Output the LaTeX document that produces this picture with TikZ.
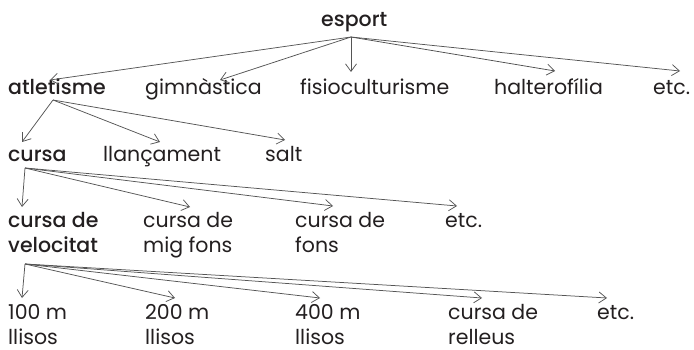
\documentclass[tikz,border=0pt]{standalone}
\usepackage{fontspec}
\setmainfont{Poppins}[BoldFont={Poppins Medium}]
\usetikzlibrary{arrows.meta}
\definecolor{ink}{HTML}{231F20}
\definecolor{wire}{HTML}{555555}
\newcommand{\twolines}[2]{\vtop{\baselineskip=25pt\hbox{#1}\hbox{#2}}}
\begin{document}
\begin{tikzpicture}[x=1pt,y=-1pt,
  lbl/.style={anchor=base west,inner sep=0pt,text=ink,font=\fontsize{20.5}{25}\selectfont},
  hd/.style={lbl,font=\fontsize{20.5}{25}\selectfont\bfseries},
  arr/.style={draw=wire,line width=0.75pt,-{Straight Barb[length=7.5pt,width=11pt,line width=0.75pt]}}]
\useasboundingbox (0,0) rectangle (694,350);
% level 0
\node[hd] (esport) at (321,27) {esport};
% level 1
\node[hd]  (atl) at (8,95) {atletisme};
\node[lbl] (gim) at (145,95) {gimnàstica};
\node[lbl] (fis) at (300,95) {fisioculturisme};
\node[lbl] (hal) at (494,95) {halterofília};
\node[lbl] (etcA) at (653,95) {etc.};
% level 2
\node[hd]  (cur) at (8,162) {cursa};
\node[lbl] (lla) at (103,162) {llançament};
\node[lbl] (sal) at (265,162) {salt};
% level 3
\node[hd]  (vel) at (8,227) {\twolines{cursa de}{velocitat}};
\node[lbl] (mig) at (143,227) {\twolines{cursa de}{mig fons}};
\node[lbl] (fon) at (295,227) {\twolines{cursa de}{fons}};
\node[lbl] (etcB) at (445,227) {etc.};
% level 4
\node[lbl] (c100) at (8,319) {\twolines{100 m}{llisos}};
\node[lbl] (c200) at (145,319) {\twolines{200 m}{llisos}};
\node[lbl] (c400) at (295,319) {\twolines{400 m}{llisos}};
\node[lbl] (rel) at (448,319) {\twolines{cursa de}{relleus}};
\node[lbl] (etcC) at (597,319) {etc.};
% connectors
\coordinate (o0) at ([xshift=30pt,yshift=-10pt]esport.base west);
\draw[arr] (o0) -- ([xshift=42pt,yshift=15pt]atl.base west);
\draw[arr] (o0) -- ([xshift=75pt,yshift=15pt]gim.base west);
\draw[arr] (o0) -- ([xshift=51pt,yshift=23pt]fis.base west);
\draw[arr] (o0) -- ([xshift=61pt,yshift=24pt]hal.base west);
\draw[arr] (o0) -- ([xshift=27pt,yshift=24pt]etcA.base west);
\coordinate (o1) at ([xshift=45pt,yshift=-5pt]atl.base west);
\draw[arr] (o1) -- ([xshift=14pt,yshift=20pt]cur.base west);
\draw[arr] (o1) -- ([xshift=57pt,yshift=20pt]lla.base west);
\draw[arr] (o1) -- ([xshift=20pt,yshift=22pt]sal.base west);
\coordinate (o2) at ([xshift=17pt,yshift=-6pt]cur.base west);
\draw[arr] (o2) -- ([xshift=14pt,yshift=20pt]vel.base west);
\draw[arr] (o2) -- ([xshift=47pt,yshift=20pt]mig.base west);
\draw[arr] (o2) -- ([xshift=38pt,yshift=21pt]fon.base west);
\draw[arr] (o2) -- ([xshift=12pt,yshift=21pt]etcB.base west);
\coordinate (o3) at ([xshift=17pt,yshift=-37pt]vel.base west);
\draw[arr] (o3) -- ([xshift=14pt,yshift=21pt]c100.base west);
\draw[arr] (o3) -- ([xshift=30pt,yshift=21pt]c200.base west);
\draw[arr] (o3) -- ([xshift=25pt,yshift=21pt]c400.base west);
\draw[arr] (o3) -- ([xshift=34pt,yshift=21pt]rel.base west);
\draw[arr] (o3) -- ([xshift=10pt,yshift=21pt]etcC.base west);
\end{tikzpicture}
\end{document}
